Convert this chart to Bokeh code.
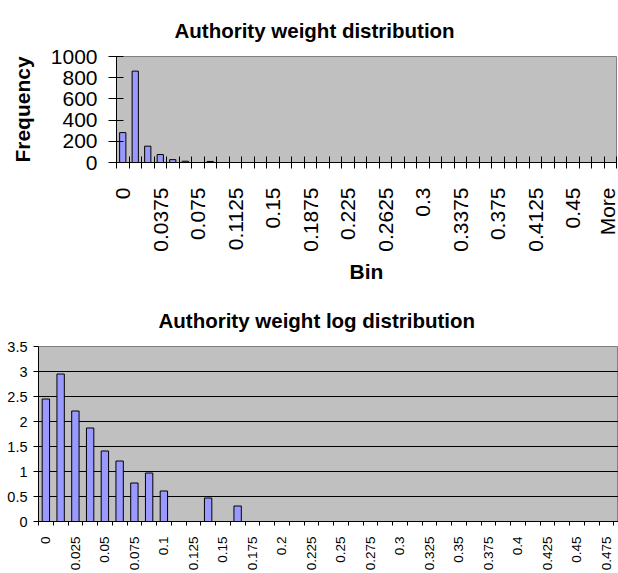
import math
from bokeh.plotting import figure
from bokeh.models import Range1d, FixedTicker, ColumnDataSource, NumeralTickFormatter
from bokeh.embed import file_html
from bokeh.resources import INLINE

# ---------------- data ----------------
bin_values = ["0", "0.0125", "0.025", "0.0375", "0.05", "0.0625", "0.075", "0.0875",
              "0.1", "0.1125", "0.125", "0.1375", "0.15", "0.1625", "0.175", "0.1875",
              "0.2", "0.2125", "0.225", "0.2375", "0.25", "0.2625", "0.275", "0.2875",
              "0.3", "0.3125", "0.325", "0.3375", "0.35", "0.3625", "0.375", "0.3875",
              "0.4", "0.4125", "0.425", "0.4375", "0.45", "0.4625", "0.475", "0.4875"]

top_title = "Authority weight distribution"
top_bins = bin_values[:39] + ["More"]
top_freq = [282, 862, 154, 75, 27, 12, 0, 10, 0, 0,
            0, 0, 0, 0, 0, 0, 0, 0, 0, 0,
            0, 0, 0, 0, 0, 0, 0, 0, 0, 0,
            0, 0, 0, 0, 0, 0, 0, 0, 0, 0]
top_yticks = [0, 200, 400, 600, 800, 1000]

log_title = "Authority weight log distribution"
log_bins = bin_values
log_freq = [2.45, 2.95, 2.21, 1.87, 1.41, 1.21, 0.77, 0.97, 0.61, 0,
            0, 0.47, 0, 0.31, 0, 0, 0, 0, 0, 0,
            0, 0, 0, 0, 0, 0, 0, 0, 0, 0,
            0, 0, 0, 0, 0, 0, 0, 0, 0, 0]
log_yticks = [0, 0.5, 1, 1.5, 2, 2.5, 3, 3.5]

FONT = "Liberation Sans"
BAR_FILL = "#9999FF"
BG = "#C0C0C0"


def style_title(p, text, offset, standoff):
    p.title.text = text
    p.title.align = "left"
    p.title.offset = offset
    p.title.standoff = standoff
    p.title.text_font = FONT
    p.title.text_font_size = "20.5px"
    p.title.text_font_style = "bold"
    p.title.text_color = "black"


# ---------------- top chart ----------------
idx1 = [i for i, v in enumerate(top_freq) if v > 0]
src1 = ColumnDataSource(dict(x=idx1, top=[top_freq[i] for i in idx1]))

p1 = figure(width=618, height=290, min_border_left=116, min_border_right=2,
            min_border_top=56, min_border_bottom=128,
            x_range=Range1d(-0.5, len(top_bins) - 0.5), y_range=Range1d(0, 1000),
            output_backend="svg", toolbar_location=None,
            background_fill_color=BG, border_fill_color="white",
            outline_line_color="#808080")
p1.vbar(x="x", top="top", width=0.5, source=src1, fill_color=BAR_FILL,
        line_color="black", line_width=1)
p1.xgrid.visible = False
p1.ygrid.visible = False
style_title(p1, top_title, 58, 30)

ya = p1.yaxis[0]
ya.ticker = FixedTicker(ticks=top_yticks)
ya.major_tick_in = 7
ya.major_tick_out = 8
ya.minor_tick_line_color = None
ya.major_label_standoff = 11
ya.major_label_text_font = FONT
ya.major_label_text_font_size = "21px"
ya.major_label_text_color = "black"
ya.axis_label = "Frequency"
ya.axis_label_text_font = FONT
ya.axis_label_text_font_size = "21px"
ya.axis_label_text_font_style = "bold"
ya.axis_label_text_color = "black"
ya.axis_label_standoff = 14
ya.axis_line_color = "black"
ya.major_tick_line_color = "black"

xa = p1.xaxis[0]
lab1 = list(range(0, len(top_bins), 3))
xa.ticker = FixedTicker(ticks=lab1, minor_ticks=[i - 0.5 for i in range(len(top_bins) + 1)])
xa.major_label_overrides = {i: top_bins[i] for i in lab1}
xa.major_label_orientation = math.pi / 2
xa.major_tick_in = 0
xa.major_tick_out = 0
xa.minor_tick_in = 6
xa.minor_tick_out = 6
xa.minor_tick_line_color = "black"
xa.major_label_standoff = 19
xa.major_label_text_font = FONT
xa.major_label_text_font_size = "21px"
xa.major_label_text_color = "black"
xa.axis_label = "Bin"
xa.axis_label_text_font = FONT
xa.axis_label_text_font_size = "21px"
xa.axis_label_text_font_style = "bold"
xa.axis_label_text_color = "black"
xa.axis_label_standoff = 5
xa.axis_line_color = "black"

# ---------------- bottom chart ----------------
idx2 = [i for i, v in enumerate(log_freq) if v > 0]
src2 = ColumnDataSource(dict(x=idx2, top=[log_freq[i] for i in idx2]))

cat_px = 14.75
frame_w2 = 580
p2 = figure(width=618, height=283, min_border_left=38, min_border_right=0,
            min_border_top=56, min_border_bottom=51,
            x_range=Range1d(-0.5, -0.5 + frame_w2 / cat_px), y_range=Range1d(0, 3.5),
            output_backend="svg", toolbar_location=None,
            background_fill_color=BG, border_fill_color="white",
            outline_line_color="#808080")
p2.vbar(x="x", top="top", width=0.5, source=src2, fill_color=BAR_FILL,
        line_color="black", line_width=1)
p2.xgrid.visible = False
p2.ygrid.ticker = FixedTicker(ticks=log_yticks[1:-1])
p2.ygrid.grid_line_color = "black"
p2.ygrid.grid_line_width = 1
style_title(p2, log_title, 120, 30)

yb = p2.yaxis[0]
yb.ticker = FixedTicker(ticks=log_yticks)
yb.formatter = NumeralTickFormatter(format="0.[0]")
yb.major_tick_in = 0
yb.major_tick_out = 5
yb.minor_tick_line_color = None
yb.major_label_standoff = 6
yb.major_label_text_font = FONT
yb.major_label_text_font_size = "14.5px"
yb.major_label_text_color = "black"
yb.axis_line_color = "black"

xb = p2.xaxis[0]
lab2 = list(range(0, 39, 2))
xb.ticker = FixedTicker(ticks=lab2, minor_ticks=[i - 0.5 for i in range(len(log_bins) + 1)])
xb.major_label_overrides = {i: log_bins[i] for i in lab2}
xb.major_label_orientation = math.pi / 2
xb.major_tick_in = 0
xb.major_tick_out = 0
xb.minor_tick_in = 0
xb.minor_tick_out = 4
xb.minor_tick_line_color = "black"
xb.major_label_standoff = 11
xb.major_label_text_font = FONT
xb.major_label_text_font_size = "13.5px"
xb.major_label_text_color = "black"
xb.axis_line_color = "black"

open("out.html", "w").write(file_html([p1, p2], INLINE))
